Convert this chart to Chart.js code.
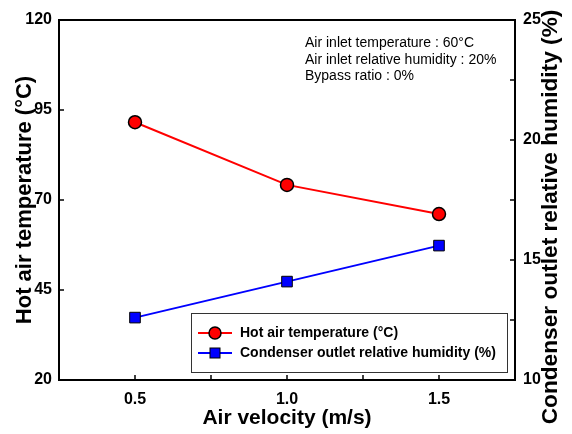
<!DOCTYPE html>
<html>
<head>
<meta charset="utf-8">
<script src="https://cdn.jsdelivr.net/npm/chart.js@4/dist/chart.umd.min.js"></script>
<style>
  html, body { margin: 0; padding: 0; background: #fff; }
  #wrap { width: 572px; height: 434px; position: relative; }
</style>
</head>
<body>
<div id="wrap"><canvas id="c" width="572" height="434"></canvas></div>
<script>
// ---- Data ----
const velocity = [0.5, 1.0, 1.5];
const hotAirTemp = [91.6, 74.2, 66.1];
const condenserRH = [12.6, 14.1, 15.6];
const velocityTicks = [0.5, 1.0, 1.5];
const velocityMinorTicks = [0.75, 1.25];
const tempTicks = [20, 45, 70, 95, 120];
const rhTicks = [10, 15, 20, 25];
const rhMinorTicks = [12.5, 17.5, 22.5];
const seriesNames = ['Hot air temperature (°C)', 'Condenser outlet relative humidity (%)'];
const noteLines = ['Air inlet temperature : 60°C', 'Air inlet relative humidity : 20%', 'Bypass ratio : 0%'];

const FONT = "Arial, 'Liberation Sans', Helvetica, sans-serif";

const extras = {
  id: 'extras',
  afterDraw(chart) {
    const ctx = chart.ctx;
    const a = chart.chartArea;
    const sx = chart.scales.x, sy = chart.scales.y, sr = chart.scales.y1;
    ctx.save();
    // top border
    ctx.strokeStyle = '#000';
    ctx.lineWidth = 2;
    ctx.beginPath();
    ctx.moveTo(a.left - 1, a.top);
    ctx.lineTo(a.right + 1, a.top);
    ctx.stroke();
    // inward ticks
    ctx.lineWidth = 1.5;
    const TL = 5;
    ctx.beginPath();
    velocityTicks.concat(velocityMinorTicks).forEach(v => {
      const px = sx.getPixelForValue(v);
      ctx.moveTo(px, a.bottom);
      ctx.lineTo(px, a.bottom - TL);
    });
    tempTicks.slice(1, -1).forEach(v => {
      const py = sy.getPixelForValue(v);
      ctx.moveTo(a.left, py);
      ctx.lineTo(a.left + TL, py);
    });
    rhTicks.slice(1, -1).concat(rhMinorTicks).forEach(v => {
      const py = sr.getPixelForValue(v);
      ctx.moveTo(a.right, py);
      ctx.lineTo(a.right - TL, py);
    });
    ctx.stroke();

    // right axis title (reads bottom to top)
    ctx.fillStyle = '#000';
    ctx.font = 'bold 22.7px ' + FONT;
    ctx.textAlign = 'center';
    ctx.textBaseline = 'middle';
    ctx.save();
    ctx.translate(551, (a.top + a.bottom) / 2 + 17);
    ctx.rotate(-Math.PI / 2);
    ctx.fillText('Condenser outlet relative humidity (%)', 0, 0);
    ctx.restore();

    // note text
    ctx.font = '14px ' + FONT;
    ctx.textAlign = 'left';
    ctx.textBaseline = 'alphabetic';
    noteLines.forEach((t, i) => ctx.fillText(t, 305, 47 + i * 16.5));

    // legend
    const lx = 191, ly = 313, lw = 316, lh = 59;
    ctx.fillStyle = '#fff';
    ctx.fillRect(lx, ly, lw, lh);
    ctx.strokeStyle = '#333';
    ctx.lineWidth = 1;
    ctx.strokeRect(lx + 0.5, ly + 0.5, lw, lh);
    chart.data.datasets.forEach((ds, i) => {
      const cy = ly + 20 + i * 20;
      ctx.strokeStyle = ds.borderColor;
      ctx.lineWidth = 2;
      ctx.beginPath();
      ctx.moveTo(198, cy);
      ctx.lineTo(232, cy);
      ctx.stroke();
      ctx.fillStyle = ds.pointBackgroundColor;
      ctx.strokeStyle = '#000';
      ctx.lineWidth = 1.5;
      if (ds.pointStyle === 'circle') {
        ctx.beginPath();
        ctx.arc(215, cy, 6, 0, Math.PI * 2);
        ctx.fill();
        ctx.stroke();
      } else {
        ctx.fillRect(210, cy - 5, 10, 10);
        ctx.lineWidth = 1;
        ctx.strokeRect(210, cy - 5, 10, 10);
      }
      ctx.fillStyle = '#000';
      ctx.font = 'bold 14px ' + FONT;
      ctx.textAlign = 'left';
      ctx.textBaseline = 'middle';
      ctx.fillText(ds.label, 240, cy);
    });
    ctx.restore();
  }
};

const tickFont = { family: FONT, size: 16, weight: 'bold' };

new Chart(document.getElementById('c'), {
  type: 'line',
  data: {
    datasets: [
      {
        label: seriesNames[0],
        data: velocity.map((v, i) => ({ x: v, y: hotAirTemp[i] })),
        yAxisID: 'y',
        borderColor: '#ff0000',
        borderWidth: 2,
        pointStyle: 'circle',
        pointRadius: 6.5,
        pointBackgroundColor: '#ff0000',
        pointBorderColor: '#000',
        pointBorderWidth: 1.5,
        tension: 0
      },
      {
        label: seriesNames[1],
        data: velocity.map((v, i) => ({ x: v, y: condenserRH[i] })),
        yAxisID: 'y1',
        borderColor: '#0000ff',
        borderWidth: 2,
        pointStyle: 'rect',
        pointRadius: 7.5,
        pointBackgroundColor: '#0000ff',
        pointBorderColor: '#000',
        pointBorderWidth: 1,
        tension: 0
      }
    ]
  },
  options: {
    responsive: false,
    animation: false,
    devicePixelRatio: 1,
    layout: { padding: { top: 20, left: 0, right: 0, bottom: 0 } },
    plugins: { legend: { display: false }, tooltip: { enabled: false } },
    scales: {
      x: {
        type: 'linear',
        position: 'bottom',
        min: 0.25, max: 1.75,
        afterBuildTicks: s => { s.ticks = velocityTicks.map(v => ({ value: v })); },
        afterFit: s => { s.height = 54; },
        grid: { display: false, drawTicks: false, tickLength: 0 },
        border: { display: true, color: '#000', width: 2 },
        ticks: { font: tickFont, color: '#000', padding: 10, maxRotation: 0, autoSkip: false,
                 callback: v => Number(v).toFixed(1) },
        title: { display: true, text: 'Air velocity (m/s)', color: '#000',
                 font: { family: FONT, size: 21, weight: 'bold' }, padding: { top: 0, bottom: 3 } }
      },
      y: {
        type: 'linear',
        position: 'left',
        min: 20, max: 120,
        afterBuildTicks: s => { s.ticks = tempTicks.map(v => ({ value: v })); },
        afterFit: s => { s.width = 59; },
        grid: { display: false, drawTicks: false, tickLength: 0 },
        border: { display: true, color: '#000', width: 2 },
        ticks: { font: tickFont, color: '#000', padding: 7, autoSkip: false },
        title: { display: true, text: 'Hot air temperature (°C)', color: '#000',
                 font: { family: FONT, size: 22, weight: 'bold' }, padding: { top: 12, bottom: 0 } }
      },
      y1: {
        type: 'linear',
        position: 'right',
        min: 10, max: 25,
        afterBuildTicks: s => { s.ticks = rhTicks.map(v => ({ value: v })); },
        afterFit: s => { s.width = 57; },
        grid: { display: false, drawTicks: false, tickLength: 0 },
        border: { display: true, color: '#000', width: 2 },
        ticks: { font: tickFont, color: '#000', padding: 8, autoSkip: false }
      }
    }
  },
  plugins: [extras]
});
</script>
</body>
</html>
